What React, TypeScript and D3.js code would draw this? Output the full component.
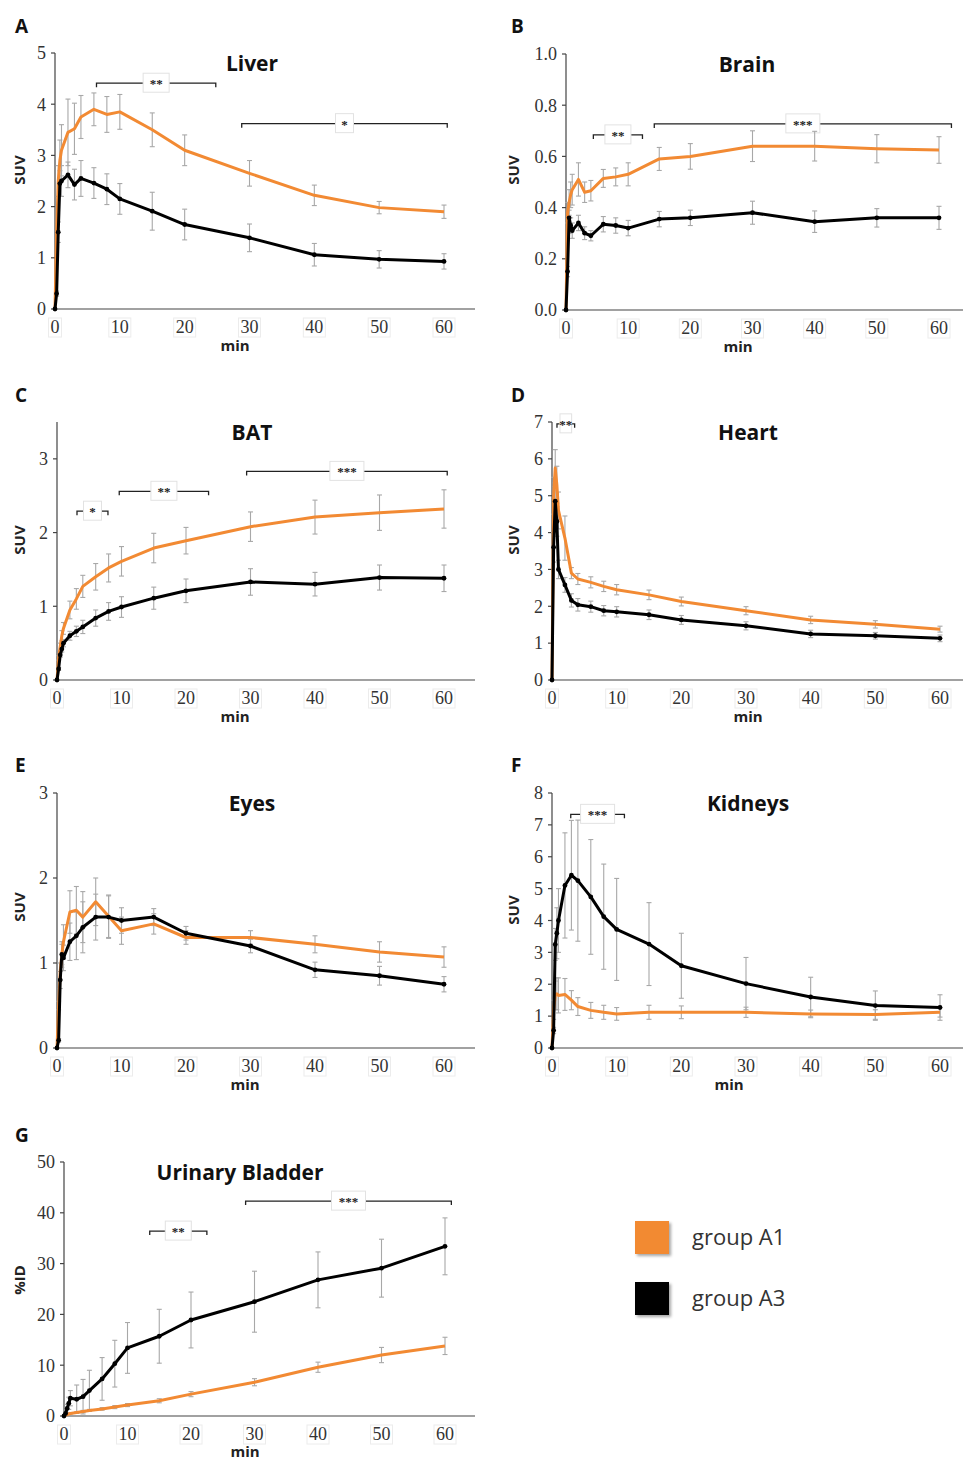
import React from 'react';
import * as d3 from 'd3';

// ---------- DATA ----------
const times = [0, 0.25, 0.5, 0.75, 1, 2, 3, 4, 6, 8, 10, 15, 20, 30, 40, 50, 60];
const xTicks = [0, 10, 20, 30, 40, 50, 60];

const liverA1 = [0, 1.5, 2.5, 2.9, 3.1, 3.45, 3.52, 3.75, 3.9, 3.8, 3.85, 3.5, 3.1, 2.65, 2.22, 1.98, 1.9];
const liverA1sd = [0, 0, 0.3, 0.4, 0.5, 0.65, 0.5, 0.42, 0.32, 0.35, 0.34, 0.33, 0.3, 0.25, 0.2, 0.12, 0.13];
const liverA3 = [0, 0.3, 1.5, 2.45, 2.5, 2.62, 2.43, 2.55, 2.46, 2.34, 2.15, 1.91, 1.65, 1.39, 1.06, 0.97, 0.93];
const liverA3sd = [0, 0.05, 0.2, 0.25, 0.3, 0.25, 0.3, 0.35, 0.3, 0.3, 0.3, 0.37, 0.3, 0.27, 0.22, 0.17, 0.15];

const brainA1 = [0, 0.38, 0.42, 0.45, 0.47, 0.51, 0.46, 0.466, 0.514, 0.52, 0.53, 0.59, 0.6, 0.64, 0.64, 0.63, 0.625];
const brainA1sd = [0, 0.04, 0.05, 0.05, 0.06, 0.065, 0.04, 0.04, 0.035, 0.035, 0.045, 0.045, 0.05, 0.06, 0.058, 0.055, 0.052];
const brainA3 = [0, 0.15, 0.36, 0.33, 0.31, 0.34, 0.3, 0.29, 0.335, 0.33, 0.32, 0.355, 0.36, 0.38, 0.345, 0.36, 0.36];
const brainA3sd = [0, 0.02, 0.03, 0.03, 0.03, 0.03, 0.025, 0.02, 0.03, 0.03, 0.03, 0.03, 0.03, 0.045, 0.042, 0.036, 0.045];

const batA1 = [0, 0.3, 0.45, 0.6, 0.7, 0.95, 1.1, 1.27, 1.4, 1.52, 1.61, 1.79, 1.89, 2.08, 2.21, 2.27, 2.32];
const batA1sd = [0, 0.03, 0.05, 0.07, 0.08, 0.12, 0.14, 0.15, 0.18, 0.19, 0.2, 0.2, 0.18, 0.2, 0.23, 0.24, 0.26];
const batA3 = [0, 0.15, 0.34, 0.42, 0.5, 0.6, 0.66, 0.72, 0.84, 0.93, 0.99, 1.11, 1.21, 1.33, 1.3, 1.39, 1.38];
const batA3sd = [0, 0.02, 0.03, 0.04, 0.05, 0.06, 0.07, 0.09, 0.11, 0.12, 0.14, 0.15, 0.16, 0.18, 0.16, 0.17, 0.18];

const heartA1 = [0, 5.0, 5.75, 5.3, 4.6, 3.85, 2.9, 2.74, 2.65, 2.54, 2.45, 2.31, 2.13, 1.88, 1.63, 1.51, 1.38];
const heartA1sd = [0, 0.5, 0.5, 0.5, 0.5, 0.6, 0.15, 0.15, 0.15, 0.14, 0.14, 0.13, 0.12, 0.11, 0.1, 0.1, 0.08];
const heartA3 = [0, 3.6, 4.85, 4.3, 3.0, 2.58, 2.16, 2.04, 1.99, 1.88, 1.85, 1.77, 1.63, 1.47, 1.25, 1.2, 1.13];
const heartA3sd = [0, 0.4, 0.5, 0.4, 0.25, 0.2, 0.18, 0.17, 0.15, 0.14, 0.14, 0.13, 0.12, 0.11, 0.1, 0.09, 0.09];

const eyesA1 = [0, 0.5, 0.9, 1.1, 1.25, 1.6, 1.62, 1.54, 1.72, 1.55, 1.38, 1.46, 1.3, 1.3, 1.22, 1.13, 1.07];
const eyesA1sd = [0, 0.05, 0.1, 0.15, 0.2, 0.25, 0.28, 0.3, 0.28, 0.25, 0.16, 0.12, 0.08, 0.08, 0.1, 0.12, 0.12];
const eyesA3 = [0, 0.09, 0.8, 1.1, 1.06, 1.25, 1.32, 1.42, 1.54, 1.54, 1.5, 1.54, 1.35, 1.2, 0.92, 0.85, 0.75];
const eyesA3sd = [0, 0.02, 0.1, 0.12, 0.15, 0.22, 0.28, 0.3, 0.27, 0.25, 0.15, 0.1, 0.08, 0.08, 0.09, 0.11, 0.09];

const kidneysA1 = [0, 1.2, 1.65, 1.7, 1.65, 1.68, 1.5, 1.3, 1.18, 1.12, 1.07, 1.12, 1.12, 1.12, 1.07, 1.05, 1.12];
const kidneysA1sd = [0, 0.3, 0.45, 0.5, 0.55, 0.5, 0.3, 0.28, 0.25, 0.22, 0.2, 0.22, 0.2, 0.16, 0.12, 0.15, 0.15];
const kidneysA3 = [0, 0.55, 3.25, 3.6, 4.0, 5.1, 5.42, 5.25, 4.74, 4.12, 3.72, 3.26, 2.58, 2.02, 1.6, 1.33, 1.27];
const kidneysA3sd = [0, 0.1, 0.5, 0.8, 1.0, 1.65, 1.72, 1.9, 1.8, 1.65, 1.6, 1.3, 1.02, 0.82, 0.62, 0.46, 0.4];

const bladderA1 = [0, 0.2, 0.3, 0.4, 0.5, 0.7, 0.9, 1.1, 1.4, 1.75, 2.15, 3.0, 4.3, 6.65, 9.6, 12.0, 13.8];
const bladderA1sd = [0, 0.05, 0.1, 0.1, 0.1, 0.15, 0.2, 0.2, 0.25, 0.3, 0.3, 0.4, 0.5, 0.7, 1.0, 1.5, 1.7];
const bladderA3 = [0, 0.5, 1.5, 2.5, 3.5, 3.3, 3.8, 5.0, 7.3, 10.3, 13.4, 15.7, 18.9, 22.5, 26.8, 29.1, 33.4];
const bladderA3sd = [0, 0.3, 0.8, 1.2, 1.5, 2.8, 3.4, 4.0, 4.2, 4.6, 5.0, 5.3, 5.5, 6.0, 5.5, 5.7, 5.6];

type Sig = { x0: number; x1: number; y: number; label: string };
const liverSig: Sig[] = [
  { x0: 6.4, x1: 24.8, y: 4.41, label: '**' },
  { x0: 28.8, x1: 60.5, y: 3.62, label: '*' },
];
const brainSig: Sig[] = [
  { x0: 4.4, x1: 12.3, y: 0.684, label: '**' },
  { x0: 14.2, x1: 62, y: 0.727, label: '***' },
];
const batSig: Sig[] = [
  { x0: 3.1, x1: 7.9, y: 2.29, label: '*' },
  { x0: 9.65, x1: 23.5, y: 2.56, label: '**' },
  { x0: 29.4, x1: 60.5, y: 2.83, label: '***' },
];
const heartSig: Sig[] = [{ x0: 0.77, x1: 3.5, y: 6.95, label: '**' }];
const eyesSig: Sig[] = [];
const kidneysSig: Sig[] = [{ x0: 2.9, x1: 11.2, y: 7.33, label: '***' }];
const bladderSig: Sig[] = [
  { x0: 13.5, x1: 22.5, y: 36.4, label: '**' },
  { x0: 28.6, x1: 61, y: 42.3, label: '***' },
];

const groupNames = ['group A1', 'group A3'];

const panels = [
  { key: 'A', title: 'Liver', yLabel: 'SUV', yMax: 5, yTicks: [0, 1, 2, 3, 4, 5], dec: 0, a1: liverA1, a1sd: liverA1sd, a3: liverA3, a3sd: liverA3sd, sig: liverSig },
  { key: 'B', title: 'Brain', yLabel: 'SUV', yMax: 1, yTicks: [0, 0.2, 0.4, 0.6, 0.8, 1.0], dec: 1, a1: brainA1, a1sd: brainA1sd, a3: brainA3, a3sd: brainA3sd, sig: brainSig },
  { key: 'C', title: 'BAT', yLabel: 'SUV', yMax: 3.5, yTicks: [0, 1, 2, 3], dec: 0, a1: batA1, a1sd: batA1sd, a3: batA3, a3sd: batA3sd, sig: batSig },
  { key: 'D', title: 'Heart', yLabel: 'SUV', yMax: 7, yTicks: [0, 1, 2, 3, 4, 5, 6, 7], dec: 0, a1: heartA1, a1sd: heartA1sd, a3: heartA3, a3sd: heartA3sd, sig: heartSig },
  { key: 'E', title: 'Eyes', yLabel: 'SUV', yMax: 3, yTicks: [0, 1, 2, 3], dec: 0, a1: eyesA1, a1sd: eyesA1sd, a3: eyesA3, a3sd: eyesA3sd, sig: eyesSig },
  { key: 'F', title: 'Kidneys', yLabel: 'SUV', yMax: 8, yTicks: [0, 1, 2, 3, 4, 5, 6, 7, 8], dec: 0, a1: kidneysA1, a1sd: kidneysA1sd, a3: kidneysA3, a3sd: kidneysA3sd, sig: kidneysSig },
  { key: 'G', title: 'Urinary Bladder', yLabel: '%ID', yMax: 50, yTicks: [0, 10, 20, 30, 40, 50], dec: 0, a1: bladderA1, a1sd: bladderA1sd, a3: bladderA3, a3sd: bladderA3sd, sig: bladderSig },
];

// ---------- LAYOUT ----------
type Layout = { x0: number; x60: number; yTop: number; yBot: number; axisEnd: number; titleX: number; minX: number; minDy: number; yLabX: number; yLabY: number; letterX: number; letterY: number };
const layouts: Record<string, Layout> = {
  A: { x0: 55, x60: 444, yTop: 53, yBot: 309, axisEnd: 475, titleX: 252, minX: 235, minDy: 42, yLabX: 20, yLabY: 170, letterX: 15, letterY: 33 },
  B: { x0: 566, x60: 939, yTop: 54, yBot: 310, axisEnd: 963, titleX: 747, minX: 738, minDy: 42, yLabX: 514, yLabY: 170, letterX: 511, letterY: 33 },
  C: { x0: 57, x60: 444, yTop: 422, yBot: 680, axisEnd: 475, titleX: 252, minX: 235, minDy: 42, yLabX: 20, yLabY: 540, letterX: 15, letterY: 402 },
  D: { x0: 552, x60: 940, yTop: 422, yBot: 680, axisEnd: 963, titleX: 748, minX: 748, minDy: 42, yLabX: 514, yLabY: 540, letterX: 511, letterY: 402 },
  E: { x0: 57, x60: 444, yTop: 793, yBot: 1048, axisEnd: 475, titleX: 252, minX: 245, minDy: 42, yLabX: 20, yLabY: 907, letterX: 15, letterY: 772 },
  F: { x0: 552, x60: 940, yTop: 793, yBot: 1048, axisEnd: 963, titleX: 748, minX: 729, minDy: 42, yLabX: 514, yLabY: 910, letterX: 511, letterY: 772 },
  G: { x0: 64, x60: 445, yTop: 1162, yBot: 1416, axisEnd: 475, titleX: 240, minX: 245, minDy: 41, yLabX: 20, yLabY: 1280, letterX: 15, letterY: 1142 },
};

const ORANGE = '#f28a33';
const BLACK = '#000';
const SANS = 'Open Sans, Noto Sans, sans-serif';
const SERIF = 'Liberation Serif, Times New Roman, DejaVu Serif, serif';

function ErrorBars({ vals, sds, x, y }: any) {
  return (
    <g stroke="#a8a8a8" strokeWidth={1.1}>
      {vals.map((v: number, i: number) => {
        const sd = sds[i];
        if (!sd) return null;
        const cx = x(times[i]);
        const yt = y(v + sd);
        const yb = y(v - sd);
        return (
          <g key={i}>
            <line x1={cx} x2={cx} y1={yt} y2={yb} />
            <line x1={cx - 2.5} x2={cx + 2.5} y1={yt} y2={yt} />
            <line x1={cx - 2.5} x2={cx + 2.5} y1={yb} y2={yb} />
          </g>
        );
      })}
    </g>
  );
}

function Panel({ p }: any) {
  const L = layouts[p.key];
  const x = d3.scaleLinear().domain([0, 60]).range([L.x0, L.x60]);
  const y = d3.scaleLinear().domain([0, p.yMax]).range([L.yBot, L.yTop]);
  const line = d3
    .line<number>()
    .x((_, i) => x(times[i]))
    .y((d) => y(d));
  const fmt = d3.format(p.dec ? '.1f' : 'd');
  return (
    <g>
      <text x={L.letterX} y={L.letterY} style={{ fontFamily: SANS }} fontWeight={700} fontSize={19} fill="#111">
        {p.key}
      </text>
      <text x={L.titleX} y={L.yTop + 18} textAnchor="middle" style={{ fontFamily: SANS }} fontWeight={700} fontSize={21} fill="#111">
        {p.title}
      </text>
      {/* axes */}
      <g stroke="#444" strokeWidth={1.2}>
        <line x1={L.x0} x2={L.x0} y1={L.yBot} y2={L.yTop} />
        <line x1={L.x0} x2={L.axisEnd} y1={L.yBot} y2={L.yBot} />
        {p.yTicks.map((t: number) => (
          <line key={t} x1={L.x0 - 4} x2={L.x0} y1={y(t)} y2={y(t)} />
        ))}
      </g>
      {p.yTicks.map((t: number) => (
        <text key={t} x={L.x0 - 9} y={y(t)} dy="0.35em" textAnchor="end" style={{ fontFamily: SERIF }} fontSize={18} fill="#333">
          {fmt(t)}
        </text>
      ))}
      {xTicks.map((t) => {
        const label = String(t);
        const w = label.length * 9 + 4;
        return (
          <g key={t}>
            <rect x={x(t) - w / 2} y={L.yBot + 9} width={w} height={19} fill="#fff" stroke="#ececec" strokeWidth={1} />
            <text x={x(t)} y={L.yBot + 24} textAnchor="middle" style={{ fontFamily: SERIF }} fontSize={18} fill="#333">
              {label}
            </text>
          </g>
        );
      })}
      <text x={L.minX} y={L.yBot + L.minDy} textAnchor="middle" style={{ fontFamily: SANS }} fontWeight={700} fontSize={15} fill="#222">
        min
      </text>
      <text
        transform={`translate(${L.yLabX},${L.yLabY}) rotate(-90)`}
        dy="0.35em"
        textAnchor="middle"
        style={{ fontFamily: SANS }}
        fontWeight={700}
        fontSize={15}
        fill="#222"
      >
        {p.yLabel}
      </text>
      {/* significance brackets */}
      {p.sig.map((s: Sig, i: number) => {
        const xa = x(s.x0);
        const xb = x(s.x1);
        const yy = y(s.y);
        const mid = (xa + xb) / 2;
        const w = Math.min(xb - xa - 6, 10 + s.label.length * 8);
        return (
          <g key={i}>
            <path d={`M${xa},${yy + 4}V${yy}H${xb}V${yy + 4}`} fill="none" stroke="#222" strokeWidth={1.3} />
            <rect x={mid - w / 2} y={yy - 10} width={w} height={19} fill="#fff" stroke="#e2e2e2" strokeWidth={1} />
            <text x={mid} y={yy + 5} textAnchor="middle" style={{ fontFamily: SERIF }} fontWeight={700} fontSize={13} fill="#222">
              {s.label}
            </text>
          </g>
        );
      })}
      <ErrorBars vals={p.a1} sds={p.a1sd} x={x} y={y} />
      <ErrorBars vals={p.a3} sds={p.a3sd} x={x} y={y} />
      <path d={line(p.a1) || ''} fill="none" stroke={ORANGE} strokeWidth={3} strokeLinejoin="round" />
      <path d={line(p.a3) || ''} fill="none" stroke={BLACK} strokeWidth={3} strokeLinejoin="round" />
      {p.a3.map((v: number, i: number) => (
        <circle key={i} cx={x(times[i])} cy={y(v)} r={2.4} fill={BLACK} />
      ))}
    </g>
  );
}

export default function App() {
  const legendColors = [ORANGE, BLACK];
  const legendY = d3.scalePoint<string>().domain(groupNames).range([1237, 1298]);
  return (
    <svg
      width={963}
      height={1460}
      viewBox="0 0 963 1460"
      style={{ position: 'absolute', left: 0, top: 0, background: '#fff', display: 'block' }}
    >
      <defs>
        <filter id="sh" x="-30%" y="-30%" width="160%" height="160%">
          <feDropShadow dx={2} dy={2} stdDeviation={1.5} floodColor="#000" floodOpacity={0.35} />
        </filter>
      </defs>
      <rect x={0} y={0} width={963} height={1460} fill="#fff" />
      {panels.map((p) => (
        <Panel key={p.key} p={p} />
      ))}
      {groupNames.map((g, i) => {
        const cy = legendY(g) as number;
        return (
          <g key={g}>
            <rect x={635} y={cy - 16} width={34} height={33} fill={legendColors[i]} filter="url(#sh)" />
            <text x={692} y={cy + 8} style={{ fontFamily: SANS }} fontSize={22} fill="#333">
              {g}
            </text>
          </g>
        );
      })}
    </svg>
  );
}
